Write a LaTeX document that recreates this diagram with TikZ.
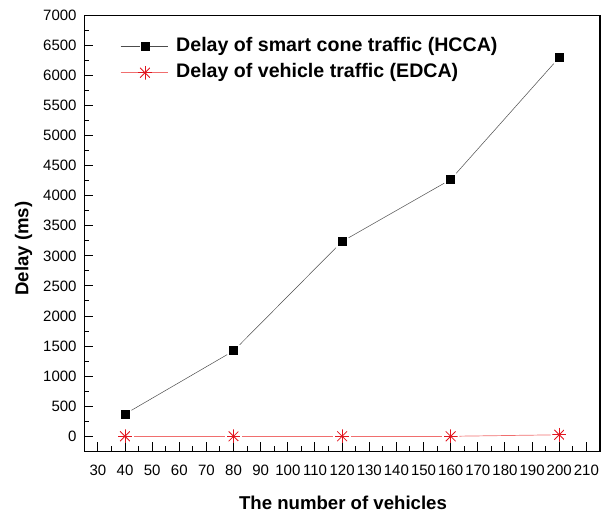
\documentclass[tikz,border=0pt]{standalone}
\usepackage{fontspec}
\setmainfont{Liberation Sans}
\definecolor{starred}{RGB}{225,20,30}
\definecolor{edcared}{RGB}{240,110,110}
\begin{document}
\begin{tikzpicture}[x=1pt,y=1pt,
  frame/.style={line width=1.3pt},
  majortick/.style={line width=1pt},
  minortick/.style={line width=1pt},
  ticklabel/.style={font=\fontsize{15}{15}\selectfont, inner sep=0pt},
  axtitle/.style={font=\bfseries\fontsize{18.6}{18.6}\selectfont, inner sep=0pt},
  legtext/.style={font=\bfseries\fontsize{19.6}{19.6}\selectfont, inner sep=0pt, anchor=west},
  sqmark/.style={rectangle, fill=black, minimum size=9pt, inner sep=0pt},
  starmark/.style={circle, minimum size=14pt, inner sep=0pt,
    path picture={\foreach \a in {0,45,90,135}
      \draw[starred, line width=0.8pt]
        ([shift={(\a:7pt)}]path picture bounding box.center) --
        ([shift={(\a+180:7pt)}]path picture bounding box.center);}},
  hccaline/.style={draw=black!70, line width=0.5pt},
  edcaline/.style={draw=edcared, line width=0.7pt}
]
\useasboundingbox (0,0) rectangle (602,516);

% data area: x in vehicles, y in ms
\begin{scope}[shift={(16.44,79.7)}, x=2.714pt, y=0.06014pt]
  \draw[frame] (25,-250) rectangle (215,7000);

  % y axis ticks and labels
  \foreach \d in {0,500,...,7000} {
    \draw[majortick] (25,\d) -- ++(9pt,0);
    \node[ticklabel, anchor=east, xshift=-7.5pt] (yl\d) at (25,\d) {\d};
  }
  \foreach \d in {250,750,...,6750}
    \draw[minortick] (25,\d) -- ++(5pt,0);

  % x axis ticks and labels
  \foreach \v in {30,40,...,210} {
    \draw[majortick] (\v,-250) -- ++(0,9pt);
    \node[ticklabel, yshift=-19pt] (xl\v) at (\v,-250) {\v};
  }
  \foreach \v in {35,45,...,205}
    \draw[minortick] (\v,-250) -- ++(0,5pt);

  % HCCA delay
  \node[sqmark] (h40) at (40,370) {};
  \node[sqmark] (h80) at (80,1420) {};
  \node[sqmark] (h120) at (120,3240) {};
  \node[sqmark] (h160) at (160,4270) {};
  \node[sqmark] (h200) at (200,6300) {};
  \foreach \a/\b in {h40/h80,h80/h120,h120/h160,h160/h200}
    \draw[hccaline, shorten <=2pt, shorten >=2pt] (\a) -- (\b);

  % EDCA delay
  \node[starmark] (e40) at (40,0) {};
  \node[starmark] (e80) at (80,0) {};
  \node[starmark] (e120) at (120,0) {};
  \node[starmark] (e160) at (160,0) {};
  \node[starmark] (e200) at (200,25) {};
  \foreach \a/\b in {e40/e80,e80/e120,e120/e160,e160/e200}
    \draw[edcaline, shorten <=1.5pt, shorten >=1.5pt] (\a) -- (\b);
\end{scope}

% legend
\coordinate (lgA1) at (120.7,469.3);
\coordinate (lgB1) at (168,469.3);
\node[sqmark] (lgsq) at (145,469.3) {};
\draw[hccaline] (lgA1) -- (lgsq) (lgsq) -- (lgB1);
\node[legtext] (lgt1) at (176,469.3) {Delay of smart cone traffic (HCCA)};

\coordinate (lgA2) at (120.7,443.3);
\coordinate (lgB2) at (168,443.3);
\draw[edcaline] (lgA2) -- (lgB2);
\node[starmark] (lgst) at (145,443.3) {};
\node[legtext] (lgt2) at (176,443.3) {Delay of vehicle traffic (EDCA)};

% axis titles
\node[axtitle] (xtitle) at (343,13) {The number of vehicles};
\node[axtitle, rotate=90] (ytitle) at (23.5,267.3) {Delay (ms)};
\end{tikzpicture}
\end{document}
